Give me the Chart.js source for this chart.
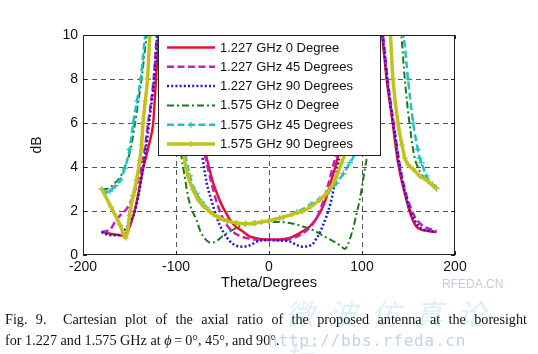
<!DOCTYPE html>
<html lang="en">
<head>
  <meta charset="utf-8">
  <title>Axial ratio vs theta</title>
  <script src="https://cdn.jsdelivr.net/npm/chart.js"></script>
  <style>
    body {
      margin: 0;
      background-color: #fff;
    }
    .page {
      position: relative;
      width: 538px;
      height: 354px;
      overflow: hidden;
    }
    #arChart {
      position: absolute;
      left: 0;
      top: 0;
    }
    .wm-cn {
      position: absolute;
      left: 285px;
      top: 291px;
      font-family: "Noto Sans CJK SC", sans-serif;
      font-size: 29px;
      letter-spacing: 14px;
      color: #dcf0f6;
      font-style: italic;
    }
    .wm-site {
      position: absolute;
      left: 442px;
      top: 277px;
      font-family: "Liberation Sans", Arial, sans-serif;
      font-size: 12px;
      color: #d5c3dc;
    }
    .wm-url {
      position: absolute;
      left: 268px;
      top: 331px;
      font-family: "DejaVu Sans Mono", monospace;
      font-size: 16px;
      letter-spacing: 0.8px;
      color: #c4d2e2;
    }
    .caption {
      position: absolute;
      left: 5px;
      width: 522px;
      font-family: "Liberation Serif", "Times New Roman", serif;
      font-size: 14.2px;
      line-height: 21px;
      color: #111;
      white-space: nowrap;
    }
    .caption.l1 {
      top: 309px;
      text-align: justify;
      text-align-last: justify;
    }
    .caption.l2 {
      top: 330px;
      text-align: left;
    }
  </style>
</head>
<body>
  <div class="page">
    <canvas id="arChart" width="538" height="300"></canvas>
    <div class="wm-cn">微波仿真论坛</div>
    <div class="wm-site">RFEDA.CN</div>
    <div class="caption l1">Fig. 9.&nbsp; Cartesian plot of the axial ratio of the proposed antenna at the boresight</div>
    <div class="caption l2">for 1.227 and 1.575 GHz at <i>ϕ</i>&thinsp;=&thinsp;0°, 45°, and 90°.</div>
    <div class="wm-url">http://bbs.rfeda.cn</div>
  </div>
  <script>
    // Axial ratio (dB), per curve.
    // Points above 10 dB sit behind the top edge / legend box and are clipped.
    const seriesNames = [
      '1.227 GHz 0 Degree',
      '1.227 GHz 45 Degrees',
      '1.227 GHz 90 Degrees',
      '1.575 GHz 0 Degree',
      '1.575 GHz 45 Degrees',
      '1.575 GHz 90 Degrees'
    ];

    const theta1227_0 = [-180, -172, -164, -157, -152, -148, -144, -140, -136, -132, -128, -124.5, -121.5, -118.5, -100, -80, -72, -69, -64, -60, -55, -51, -46, -42, -36, -31, -26, -21, -15, -10, 0, 10, 22, 33, 44, 50, 54.5, 59, 63, 67, 70.6, 74, 80, 100, 121.5, 126.5, 133, 138, 142, 146, 151, 154, 157.5, 161, 164, 169, 174, 180];
    const ar1227_0 = [1.05, 0.98, 0.92, 0.88, 1.1, 1.5, 2.1, 2.9, 3.8, 4.5, 5.2, 6.0, 8.0, 10.0, 14, 8, 5.6, 4.8, 3.9, 3.27, 2.7, 2.29, 1.9, 1.6, 1.3, 1.15, 1.0, 0.85, 0.78, 0.73, 0.7, 0.7, 0.77, 1.0, 1.3, 1.6, 1.9, 2.3, 2.8, 3.4, 3.9, 4.5, 6.5, 14, 10, 8, 6, 4.4, 3.5, 2.8, 2.0, 1.65, 1.35, 1.2, 1.15, 1.1, 1.07, 1.05];

    const theta1227_45 = [-180, -175, -170, -165, -160, -155, -150, -146, -142, -139, -134, -130, -124, -120.5, -100, -78, -70, -66, -62, -57, -52, -46, -40, -33, -25, -15, 0, 15, 25, 35, 45, 52, 58, 63, 68, 72, 78, 100, 122.5, 127.5, 134, 139.5, 141, 146, 151, 156.6, 162, 167, 173, 180];
    const ar1227_45 = [1.05, 1.08, 1.2, 1.55, 1.8, 2.0, 2.3, 2.7, 3.2, 3.7, 4.7, 6.0, 8.0, 10, 14, 7, 4.8, 4.0, 3.3, 2.5, 1.9, 1.4, 1.1, 0.9, 0.78, 0.7, 0.68, 0.68, 0.75, 0.95, 1.3, 1.75, 2.4, 3.1, 3.9, 4.6, 6.5, 14, 10, 8, 6, 4.4, 4.0, 3.0, 2.3, 1.75, 1.45, 1.28, 1.18, 1.1];

    const theta1227_90 = [-180, -175, -170, -163, -158, -153, -148, -144, -140, -136, -133, -129, -123.5, -120, -100, -78, -72.7, -67, -62, -56.6, -49.5, -42, -35, -28, -20, -13.5, -5, 0, 10, 22, 30, 36.5, 42, 47, 51, 54.5, 58, 61.7, 67, 70, 72.5, 76, 82, 100, 122, 127, 133.5, 139, 140.5, 146, 152, 158.5, 164, 172, 180];
    const ar1227_90 = [1.05, 0.95, 0.9, 0.9, 1.0, 1.25, 1.6, 2.0, 2.8, 3.8, 4.6, 6.0, 8.0, 10, 14, 6.5, 4.8, 3.27, 2.5, 1.75, 1.07, 0.62, 0.42, 0.38, 0.45, 0.6, 0.68, 0.68, 0.66, 0.62, 0.45, 0.38, 0.4, 0.5, 0.75, 1.0, 1.35, 1.75, 2.5, 3.1, 3.7, 4.6, 7, 14, 10, 8, 6, 4.4, 4.0, 2.9, 2.0, 1.45, 1.2, 1.1, 1.05];

    const theta1575_0 = [-180, -175, -170, -165, -160, -155, -150, -147, -144, -140.5, -137, -131.5, -115, -95, -90, -87, -83.5, -78, -74, -68, -62, -56, -50, -42, -32, -20, -10, 0, 10, 20, 30, 40, 50, 57, 65, 72.5, 78, 81.5, 85, 90, 94, 97.5, 100, 103, 106.5, 110, 116, 130, 142.3, 146, 151, 156.7, 160, 165, 169, 175, 180];
    const ar1575_0 = [3.0, 3.0, 3.1, 3.3, 3.55, 4.0, 4.6, 5.2, 6.0, 7.0, 8.0, 10, 14, 4.8, 3.4, 2.66, 2.1, 1.6, 1.1, 0.7, 0.55, 0.65, 0.85, 1.07, 1.3, 1.45, 1.5, 1.5, 1.5, 1.47, 1.38, 1.25, 1.08, 0.9, 0.72, 0.55, 0.38, 0.27, 0.5, 1.15, 1.85, 2.5, 3.1, 3.9, 4.8, 6.5, 10, 15, 10, 8, 6, 4.4, 4.0, 3.6, 3.4, 3.15, 3.05];

    const theta1575_45 = [-180, -175, -171, -165, -160, -155, -150, -146, -142, -138, -133, -110, -90.6, -85, -78, -72, -67, -60, -53, -45, -35, -25, -15, 0, 15, 30, 45, 54.5, 65, 72.5, 80, 87, 92, 98, 112, 128, 144.8, 149.5, 155, 160, 162, 164, 169, 176, 180];
    const ar1575_45 = [3.0, 2.85, 2.9, 3.15, 3.4, 3.95, 4.8, 6.0, 7.0, 8.0, 10, 14, 4.8, 3.6, 2.8, 2.4, 2.14, 1.85, 1.68, 1.55, 1.45, 1.43, 1.45, 1.55, 1.7, 1.95, 2.3, 2.55, 2.9, 3.27, 3.7, 4.2, 4.6, 6, 10, 15, 10, 8, 6, 4.8, 4.4, 4.2, 3.6, 3.2, 3.05];

    const theta1575_90 = [-180, -170, -160, -154, -152, -150, -146, -142.5, -139, -137, -135.5, -133, -130.6, -128, -110, -92.4, -87, -81.7, -76, -70, -63, -55, -45, -35, -25, -17.5, -8, 0, 11.5, 25, 36, 45, 54.5, 61, 67, 72, 78, 83, 90, 100, 115, 130.5, 133.3, 138.7, 143, 146, 150, 155, 162, 171, 180];
    const ar1575_90 = [3.0, 2.2, 1.35, 0.78, 1.1, 1.8, 2.7, 3.4, 4.3, 5.0, 6.0, 7.0, 8.0, 10, 14, 4.8, 3.6, 2.97, 2.5, 2.2, 1.95, 1.72, 1.55, 1.45, 1.42, 1.43, 1.5, 1.56, 1.68, 1.85, 1.98, 2.2, 2.5, 2.75, 3.1, 3.5, 4.2, 4.8, 7, 10, 14, 10, 8, 6, 5.0, 4.4, 4.1, 3.9, 3.6, 3.35, 3.0];

    const xTicks = [-200, -100, 0, 100, 200];
    const yTicks = [0, 2, 4, 6, 8, 10];

    function toPoints(xs, ys) {
      return xs.map((t, i) => ({ x: t, y: ys[i] }));
    }

    // line look per curve (MATLAB style)
    const looks = [
      { color: '#e8102e', width: 2.5, dash: [] , marker: false },
      { color: '#c21cc4', width: 2.5, dash: [7, 3.5], marker: false },
      { color: '#1a1ac8', width: 2.5, dash: [2, 2.2], marker: false },
      { color: '#1c7a1c', width: 2, dash: [7, 3, 2, 3], marker: false },
      { color: '#1fc1c4', width: 2.5, dash: [7, 3.5], marker: true },
      { color: '#c2c21c', width: 3.5, dash: [], marker: true }
    ];

    const thetas = [theta1227_0, theta1227_45, theta1227_90, theta1575_0, theta1575_45, theta1575_90];
    const values = [ar1227_0, ar1227_45, ar1227_90, ar1575_0, ar1575_45, ar1575_90];

    const datasets = seriesNames.map((name, i) => ({
      label: name,
      data: toPoints(thetas[i], values[i]),
      borderColor: looks[i].color,
      backgroundColor: looks[i].color,
      borderWidth: looks[i].width,
      borderDash: looks[i].dash,
      cubicInterpolationMode: 'monotone',
      pointStyle: 'cross',
      pointRadius: looks[i].marker ? 3 : 0,
      pointBorderWidth: 1.2,
      pointBorderColor: looks[i].color,
      clip: 0,
      order: seriesNames.length - i // later curves drawn on top
    }));

    // box frame, inward tick marks and the in-plot legend
    const frameAndLegend = {
      id: 'frameAndLegend',
      afterDatasetsDraw(chart) {
        const { ctx, chartArea: a, scales } = chart;
        ctx.save();
        ctx.setLineDash([]);
        ctx.strokeStyle = '#222';
        ctx.lineWidth = 1;
        ctx.strokeRect(a.left + 0.5, a.top + 0.5, a.right - a.left - 1, a.bottom - a.top - 1);

        ctx.beginPath();
        xTicks.forEach(v => {
          const px = Math.round(scales.x.getPixelForValue(v)) + 0.5;
          ctx.moveTo(px, a.bottom); ctx.lineTo(px, a.bottom - 4);
          ctx.moveTo(px, a.top); ctx.lineTo(px, a.top + 4);
        });
        yTicks.forEach(v => {
          const py = Math.round(scales.y.getPixelForValue(v)) + 0.5;
          ctx.moveTo(a.left, py); ctx.lineTo(a.left + 4, py);
          ctx.moveTo(a.right, py); ctx.lineTo(a.right - 4, py);
        });
        ctx.stroke();

        // legend box
        const bx = a.left + 75, by = a.top, bw = 222, bh = 120;
        ctx.fillStyle = '#fff';
        ctx.fillRect(bx, by, bw, bh);
        ctx.strokeStyle = '#222';
        ctx.strokeRect(bx + 0.5, by + 0.5, bw, bh);

        ctx.font = '13px "Liberation Sans", Arial, sans-serif';
        ctx.textBaseline = 'middle';
        chart.data.datasets.forEach((ds, i) => {
          const y = by + 12.5 + i * 19.3;
          const x0 = bx + 9, x1 = bx + 57;
          ctx.strokeStyle = ds.borderColor;
          ctx.lineWidth = ds.borderWidth;
          ctx.setLineDash(ds.borderDash);
          ctx.beginPath();
          ctx.moveTo(x0, y);
          ctx.lineTo(x1, y);
          ctx.stroke();
          if (ds.pointRadius > 0) {
            const mx = (x0 + x1) / 2;
            ctx.setLineDash([]);
            ctx.lineWidth = 1.2;
            ctx.beginPath();
            ctx.moveTo(mx - 3, y); ctx.lineTo(mx + 3, y);
            ctx.moveTo(mx, y - 3); ctx.lineTo(mx, y + 3);
            ctx.stroke();
          }
          ctx.fillStyle = '#111';
          ctx.fillText(ds.label, bx + 62, y + 0.5);
        });
        ctx.restore();
      }
    };

    const tickFont = { family: '"Liberation Sans", Arial, sans-serif', size: 14 };

    new Chart(document.getElementById('arChart'), {
      type: 'line',
      data: { datasets: datasets },
      options: {
        responsive: false,
        animation: false,
        layout: { padding: { left: 0, right: 83, top: 35, bottom: 0 } },
        plugins: {
          legend: { display: false },
          tooltip: { enabled: false }
        },
        scales: {
          x: {
            type: 'linear',
            min: -200,
            max: 200,
            afterBuildTicks: s => { s.ticks = xTicks.map(v => ({ value: v })); },
            afterFit: s => { s.height = 45; },
            ticks: { font: tickFont, color: '#111', padding: 4, maxRotation: 0 },
            grid: {
              drawTicks: false,
              color: c => (c.tick && (c.tick.value === -200 || c.tick.value === 200)) ? 'rgba(0,0,0,0)' : '#555',
              lineWidth: 1
            },
            border: { display: false, dash: [5, 4] },
            title: {
              display: true,
              text: 'Theta/Degrees',
              font: { family: '"Liberation Sans", Arial, sans-serif', size: 14.5 },
              color: '#111',
              padding: { top: 0, bottom: 8 }
            }
          },
          y: {
            min: 0,
            max: 10,
            afterBuildTicks: s => { s.ticks = yTicks.map(v => ({ value: v })); },
            afterFit: s => { s.width = 83; },
            ticks: { font: tickFont, color: '#111', padding: 5 },
            grid: {
              drawTicks: false,
              color: c => (c.tick && (c.tick.value === 0 || c.tick.value === 10)) ? 'rgba(0,0,0,0)' : '#555',
              lineWidth: 1
            },
            border: { display: false, dash: [5, 4] },
            title: {
              display: true,
              text: 'dB',
              font: { family: '"Liberation Sans", Arial, sans-serif', size: 14 },
              color: '#111',
              padding: { top: 29, bottom: 0 }
            }
          }
        }
      },
      plugins: [frameAndLegend]
    });
  </script>
</body>
</html>
